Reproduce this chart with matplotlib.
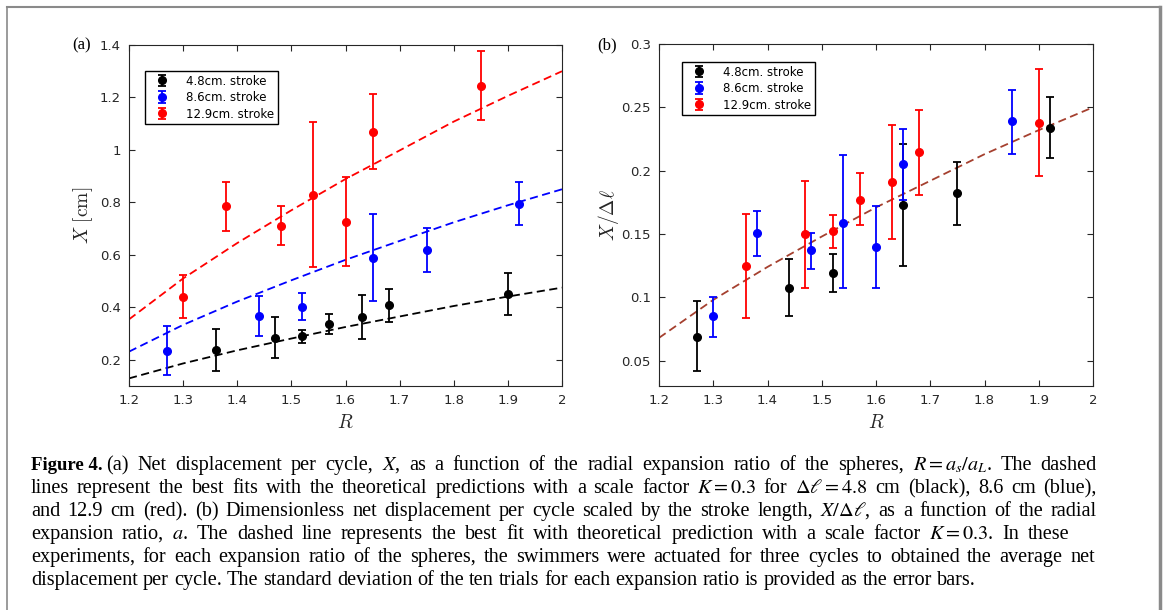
import matplotlib
matplotlib.use("Agg")
import matplotlib.pyplot as plt
import numpy as np
from matplotlib.lines import Line2D
from matplotlib.ticker import FormatStrFormatter

# ---- data (a): net displacement X [cm] vs R ----
a_black_R = [1.36, 1.47, 1.52, 1.57, 1.63, 1.68, 1.90]
a_black_X = [0.238, 0.282, 0.289, 0.337, 0.362, 0.408, 0.452]
a_black_lo = [0.158, 0.205, 0.263, 0.297, 0.278, 0.344, 0.371]
a_black_hi = [0.316, 0.363, 0.315, 0.375, 0.447, 0.471, 0.530]

a_blue_R = [1.27, 1.44, 1.52, 1.65, 1.75, 1.92]
a_blue_X = [0.235, 0.365, 0.403, 0.589, 0.618, 0.795]
a_blue_lo = [0.143, 0.289, 0.352, 0.425, 0.533, 0.715]
a_blue_hi = [0.327, 0.442, 0.453, 0.757, 0.703, 0.876]

a_red_R = [1.30, 1.38, 1.48, 1.54, 1.60, 1.65, 1.85]
a_red_X = [0.440, 0.786, 0.710, 0.830, 0.727, 1.068, 1.243]
a_red_lo = [0.361, 0.691, 0.638, 0.553, 0.558, 0.926, 1.114]
a_red_hi = [0.523, 0.878, 0.785, 1.106, 0.897, 1.212, 1.377]

# ---- data (b): X / delta l vs R ----
b_black_R = [1.27, 1.44, 1.52, 1.65, 1.75, 1.92]
b_black_X = [0.069, 0.107, 0.119, 0.173, 0.182, 0.234]
b_black_lo = [0.042, 0.085, 0.104, 0.125, 0.157, 0.210]
b_black_hi = [0.097, 0.130, 0.134, 0.221, 0.207, 0.258]

b_blue_R = [1.30, 1.38, 1.48, 1.54, 1.60, 1.65, 1.85]
b_blue_X = [0.085, 0.151, 0.137, 0.159, 0.140, 0.205, 0.239]
b_blue_lo = [0.069, 0.133, 0.122, 0.107, 0.107, 0.177, 0.213]
b_blue_hi = [0.100, 0.168, 0.151, 0.212, 0.172, 0.233, 0.264]

b_red_R = [1.36, 1.47, 1.52, 1.57, 1.63, 1.68, 1.90]
b_red_X = [0.125, 0.150, 0.152, 0.177, 0.191, 0.215, 0.238]
b_red_lo = [0.084, 0.107, 0.139, 0.157, 0.146, 0.181, 0.196]
b_red_hi = [0.166, 0.192, 0.165, 0.198, 0.236, 0.248, 0.280]

# ---- fitted curves ----
fit_R = [1.2, 1.3, 1.4, 1.5, 1.6, 1.7, 1.8, 1.9, 2.0]
fit_a_black = [0.129, 0.186, 0.236, 0.281, 0.325, 0.365, 0.405, 0.441, 0.475]
fit_a_blue = [0.231, 0.333, 0.422, 0.503, 0.581, 0.653, 0.724, 0.789, 0.850]
fit_a_red = [0.354, 0.510, 0.645, 0.770, 0.889, 0.998, 1.108, 1.206, 1.300]
fit_b = [0.068, 0.098, 0.124, 0.148, 0.171, 0.192, 0.213, 0.232, 0.250]

labels = ["4.8cm. stroke", "8.6cm. stroke", "12.9cm. stroke"]
x_ticks = [1.2, 1.3, 1.4, 1.5, 1.6, 1.7, 1.8, 1.9, 2.0]
a_yticks = [0.2, 0.4, 0.6, 0.8, 1.0, 1.2, 1.4]
b_yticks = [0.05, 0.1, 0.15, 0.2, 0.25, 0.3]

W, H = 1163, 610
fig = plt.figure(figsize=(W / 100, H / 100), dpi=100)
axcol = "#262626"


def px_box(l, t, r, b):
    return [l / W, 1 - b / H, (r - l) / W, (b - t) / H]


def errbars(ax, R, X, lo, hi, c, lab):
    X = np.array(X)
    yerr = [X - np.array(lo), np.array(hi) - X]
    ax.errorbar(R, X, yerr=yerr, fmt="o", color=c, ms=5.5, capsize=3.2,
                elinewidth=1.3, capthick=1.3, label=lab, zorder=3)


def style(ax, ylim, yticks):
    ax.set_xlim(1.2, 2.0)
    ax.set_ylim(*ylim)
    ax.set_xticks(x_ticks)
    ax.set_yticks(yticks)
    ax.xaxis.set_major_formatter(FormatStrFormatter("%g"))
    ax.yaxis.set_major_formatter(FormatStrFormatter("%g"))
    ax.tick_params(direction="in", top=True, right=True, length=4,
                   width=0.8, color=axcol, labelcolor=axcol, labelsize=9.5,
                   pad=6)
    for s in ax.spines.values():
        s.set_color(axcol)
        s.set_linewidth(0.8)
    ax.set_xlabel("$R$", fontsize=14, math_fontfamily="cm", color=axcol)


def add_legend(ax, x, y):
    ax.legend(loc="upper left", bbox_to_anchor=(x / W, 1 - y / H),
              bbox_transform=fig.transFigure, borderaxespad=0,
              fancybox=False, edgecolor="black", framealpha=1,
              fontsize=8.5, handlelength=2.2, handletextpad=1.0,
              labelspacing=0.3, borderpad=0.3)


# (a)
ax1 = fig.add_axes(px_box(129, 45, 562, 386))
ax1.plot(fit_R, fit_a_black, color="black", ls=(0, (4.5, 2.5)), lw=1.3)
ax1.plot(fit_R, fit_a_blue, color="blue", ls=(0, (4.5, 2.5)), lw=1.3)
ax1.plot(fit_R, fit_a_red, color="red", ls=(0, (4.5, 2.5)), lw=1.3)
errbars(ax1, a_black_R, a_black_X, a_black_lo, a_black_hi, "black", labels[0])
errbars(ax1, a_blue_R, a_blue_X, a_blue_lo, a_blue_hi, "blue", labels[1])
errbars(ax1, a_red_R, a_red_X, a_red_lo, a_red_hi, "red", labels[2])
style(ax1, (0.1, 1.4), a_yticks)
ax1.set_ylabel(r"$X\ [\mathrm{cm}]$", fontsize=14, math_fontfamily="cm",
               color=axcol, labelpad=3)
add_legend(ax1, 145, 71)

# (b)
ax2 = fig.add_axes(px_box(659, 44, 1093, 386))
ax2.plot(fit_R, fit_b, color="#a5402f", ls=(0, (4.5, 2.5)), lw=1.3)
errbars(ax2, b_black_R, b_black_X, b_black_lo, b_black_hi, "black", labels[0])
errbars(ax2, b_blue_R, b_blue_X, b_blue_lo, b_blue_hi, "blue", labels[1])
errbars(ax2, b_red_R, b_red_X, b_red_lo, b_red_hi, "red", labels[2])
style(ax2, (0.03, 0.3), b_yticks)
ax2.set_ylabel(r"$X/\Delta\ell$", fontsize=14, math_fontfamily="cm",
               color=axcol, labelpad=0)
add_legend(ax2, 682, 62)

# panel tags
fig.text(72 / W, 1 - 45 / H, "(a)", family="Liberation Serif", fontsize=12,
         va="center", ha="left")
fig.text(597 / W, 1 - 45 / H, "(b)", family="Liberation Serif", fontsize=12,
         va="center", ha="left")

# outer frame
fc = "#8a8a8a"
fig.add_artist(Line2D([7 / W, 1160 / W], [1 - 7 / H, 1 - 7 / H], color=fc, lw=1.5,
                      transform=fig.transFigure))
fig.add_artist(Line2D([7 / W, 7 / W], [1 - 7 / H, 0], color=fc, lw=1.2,
                      transform=fig.transFigure))
fig.add_artist(Line2D([1160 / W, 1160 / W], [1 - 7 / H, 0], color=fc, lw=2.5,
                      transform=fig.transFigure))

# caption (justified word by word)
cap = [
    r"(a) Net displacement per cycle, $X$, as a function of the radial expansion ratio of the spheres, $R=a_s/a_L$. The dashed",
    r"lines represent the best fits with the theoretical predictions with a scale factor $K=0.3$ for $\Delta\ell=4.8$ cm (black), 8.6 cm (blue),",
    r"and 12.9 cm (red). (b) Dimensionless net displacement per cycle scaled by the stroke length, $X/\Delta\ell$, as a function of the radial",
    r"expansion ratio, $a$. The dashed line represents the best fit with theoretical prediction with a scale factor $K=0.3$. In these",
    r"experiments, for each expansion ratio of the spheres, the swimmers were actuated for three cycles to obtained the average net",
    r"displacement per cycle. The standard deviation of the ten trials for each expansion ratio is provided as the error bars.",
]
cap_left = [106, 31, 31, 31, 31, 31]
cap_right = [1097, 1097, 1097, 1069, 1095, None]
fs = 14.6
fig.text(31 / W, 1 - 470 / H, "Figure 4.", family="Liberation Serif",
         fontweight="bold", fontsize=13.5, va="baseline")
renderer = fig.canvas.get_renderer()
space = 0.25 * fs * 100 / 72
for i, line in enumerate(cap):
    y = 1 - (470 + 23 * i) / H
    words = line.split(" ")
    texts = [fig.text(0, y, w, family="Liberation Serif", fontsize=fs,
                      va="baseline", math_fontfamily="stix") for w in words]
    widths = [t.get_window_extent(renderer).width for t in texts]
    if cap_right[i] is None:
        gap = space
    else:
        gap = (cap_right[i] - cap_left[i] - sum(widths)) / (len(words) - 1)
    x = cap_left[i]
    for t, w in zip(texts, widths):
        t.set_x(x / W)
        x += w + gap

fig.savefig("out.png", dpi=100)
